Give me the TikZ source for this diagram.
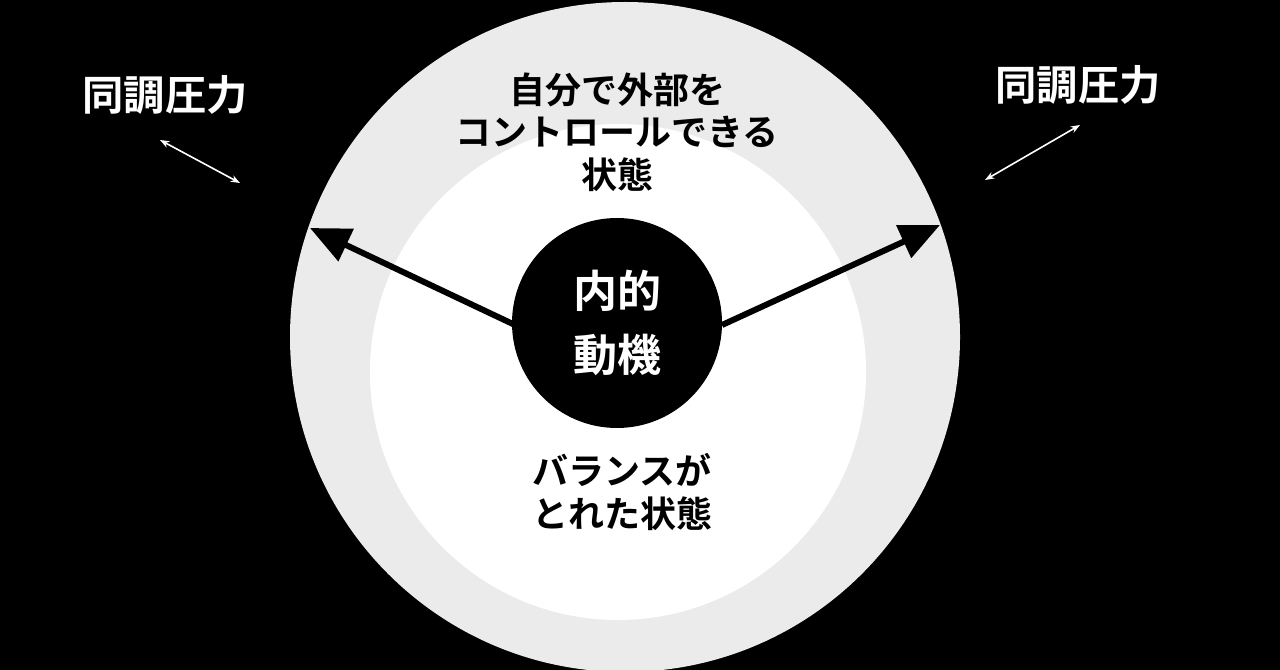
\documentclass[tikz,border=0pt]{standalone}
\usepackage{fontspec}
\newfontfamily\cjk{Noto Sans CJK JP Bold}
\usetikzlibrary{arrows.meta}
\tikzset{
  label/.style={font=\cjk\fontsize{27}{32}\selectfont, align=center, inner sep=0pt},
  big/.style={font=\cjk\fontsize{31}{36}\selectfont, text=white, inner sep=0pt},
  push/.style={line width=4.5pt, -{Triangle[length=30pt,width=26pt]}},
  tug/.style={white, line width=1.2pt, {Stealth[length=7pt]}-{Stealth[length=7pt]}}
}
\begin{document}
\begin{tikzpicture}[x=0.75pt, y=-0.75pt]
\fill[black] (0,0) rectangle (1280,670);
\useasboundingbox (0,0) rectangle (1280,670);
% rings
\fill[black!8] (625,337) circle (335);
\fill[white] (618,372) circle (248);
\node[circle, fill=black, minimum size=210*0.75pt, inner sep=0pt] (core) at (617,323) {};
\node[big, align=center, font=\cjk\fontsize{33}{48}\selectfont] (motive) at (617,323) {内的\\動機};
% texts
\node[label] (control) at (617,132) {自分で外部を\\コントロールできる\\状態};
\node[label] (balance) at (622,492) {バランスが\\とれた状態};
\node[big] (peerL) at (165,95) {同調圧力};
\node[big] (peerR) at (1078,85) {同調圧力};
% arrows
\coordinate (tipL) at (310,228);
\coordinate (tipR) at (940,225);
\coordinate (tailL) at (515,325);
\coordinate (tailR) at (722,325);
\draw[push] (tailL) -- (tipL);
\draw[push] (tailR) -- (tipR);
\coordinate (a1) at (160,140);
\coordinate (a2) at (240,183);
\coordinate (b1) at (985,180);
\coordinate (b2) at (1080,125);
\draw[tug] (a1) -- (a2);
\draw[tug] (b1) -- (b2);
\end{tikzpicture}
\end{document}
